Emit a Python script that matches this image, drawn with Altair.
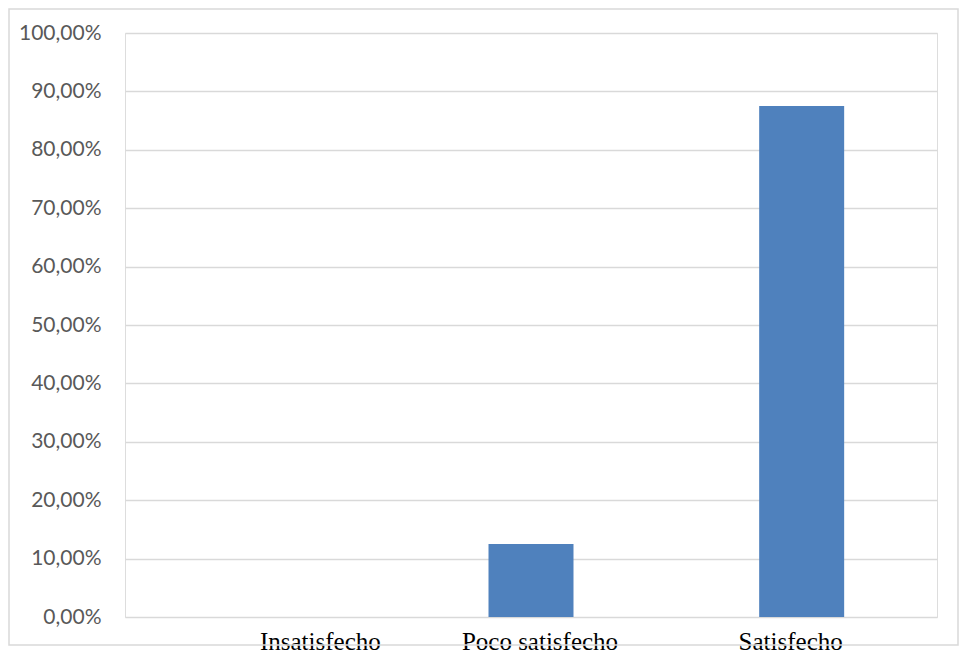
import altair as alt
import pandas as pd

categories = ["Insatisfecho", "Poco satisfecho", "Satisfecho"]
values = [0.0, 0.125, 0.875]
y_ticks = [0.0, 0.1, 0.2, 0.3, 0.4, 0.5, 0.6, 0.7, 0.8, 0.9, 1.0]

df = pd.DataFrame({"cat": categories, "val": values})

W, H = 812, 584

border = alt.Chart(pd.DataFrame({"a": [0]})).mark_rect(
    filled=False, stroke="#D9D9D9", strokeWidth=1.5
).encode(
    x=alt.value(-116), x2=alt.value(833), y=alt.value(-24), y2=alt.value(612)
)

bars = alt.Chart(df).mark_bar(color="#4F81BD").encode(
    x=alt.X(
        "cat:N",
        sort=categories,
        scale=alt.Scale(paddingInner=0.686, paddingOuter=0.343),
        axis=alt.Axis(
            title=None, labelAngle=0, labelFont="Liberation Serif",
            labelFontSize=25, labelColor="#000000", domain=False,
            ticks=False, labelPadding=12,
            labelOffset={
                "condition": [
                    {"test": "datum.value === 'Insatisfecho'", "value": 60},
                    {"test": "datum.value === 'Poco satisfecho'", "value": 9},
                ],
                "value": -11,
            },
        ),
    ),
    y=alt.Y(
        "val:Q",
        scale=alt.Scale(domain=[0, 1]),
        axis=alt.Axis(
            title=None, values=y_ticks,
            labelExpr="replace(format(datum.value, '.2%'), '.', ',')",
            grid=True, gridColor="#D9D9D9", gridWidth=1.5,
            domain=False, ticks=False, labelFont="Lato",
            labelFontSize=21, labelColor="#595959", labelPadding=24,
        ),
    ),
)

chart = alt.layer(border, bars).properties(
    width=W, height=H,
    autosize=alt.AutoSizeParams(type="none"),
    padding={"left": 117, "top": 25, "right": 23, "bottom": 40},
).configure_view(stroke=None).configure(background="white")

chart.save("out.html", embed_options={"renderer": "svg", "actions": False})
